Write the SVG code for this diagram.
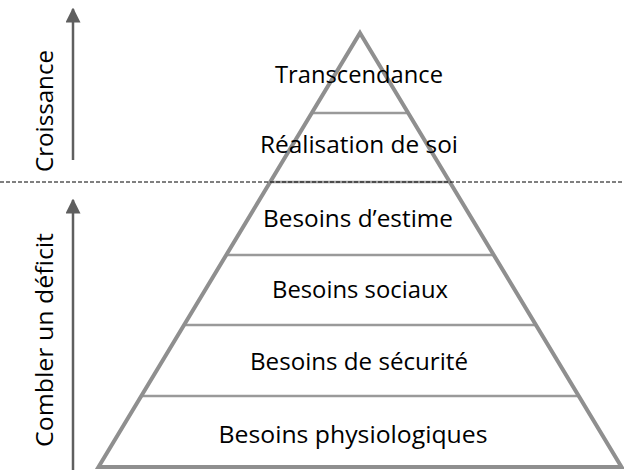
<svg xmlns="http://www.w3.org/2000/svg" width="624" height="473" viewBox="0 0 624 473">
<style>
.lbl{font-family:"Open Sans","Liberation Sans",sans-serif;font-size:23px;fill:#000;text-anchor:middle}
.side{font-family:"Open Sans","Liberation Sans",sans-serif;font-size:23px;fill:#000;text-anchor:middle}
.edge{fill:none;stroke:#8f8f8f;stroke-width:4;stroke-linejoin:miter}
.tier{stroke:#9a9a9a;stroke-width:2.5}
.arr{stroke:#5f5f5f;stroke-width:2.5;fill:none}
</style>
<defs>
<marker id="ah" viewBox="0 0 10 10" refX="9" refY="5" markerWidth="6" markerHeight="6" markerUnits="strokeWidth" orient="auto">
<path d="M0,0 L10,5 L0,10 z" fill="#5f5f5f"/>
</marker>
</defs>
<rect width="624" height="473" fill="#fff"/>
<g id="pyramid">
<line class="tier" x1="311.8" y1="113" x2="408.2" y2="113"/>
<line class="tier" x1="270.2" y1="182" x2="449.8" y2="182"/>
<line class="tier" x1="226.2" y1="255" x2="493.8" y2="255"/>
<line class="tier" x1="184.1" y1="325" x2="535.9" y2="325"/>
<line class="tier" x1="141.3" y1="396" x2="578.7" y2="396"/>
<path class="edge" d="M360,33 L621.5,467 L98.5,467 Z"/>
</g>
<g id="tier-transcendance"><text class="lbl" x="359" y="83" textLength="168" lengthAdjust="spacingAndGlyphs">Transcendance</text></g>
<g id="tier-realisation"><text class="lbl" x="359" y="153" textLength="198" lengthAdjust="spacingAndGlyphs">Réalisation de soi</text></g>
<g id="tier-estime"><text class="lbl" x="358" y="227" textLength="190" lengthAdjust="spacingAndGlyphs">Besoins d’estime</text></g>
<g id="tier-sociaux"><text class="lbl" x="360" y="298" textLength="176" lengthAdjust="spacingAndGlyphs">Besoins sociaux</text></g>
<g id="tier-securite"><text class="lbl" x="359" y="370" textLength="218" lengthAdjust="spacingAndGlyphs">Besoins de sécurité</text></g>
<g id="tier-physio"><text class="lbl" x="353" y="443" textLength="269" lengthAdjust="spacingAndGlyphs">Besoins physiologiques</text></g>
<g id="divider"><line x1="0" y1="182" x2="624" y2="182" stroke="#000" stroke-width="1" stroke-dasharray="4 2"/></g>
<g id="connectors">
<line class="arr" x1="73" y1="160" x2="73" y2="9" marker-end="url(#ah)"/>
<line class="arr" x1="73" y1="470" x2="73" y2="200" marker-end="url(#ah)"/>
</g>
<g id="label-croissance"><text class="side" transform="translate(53,111) rotate(-90)" textLength="122" lengthAdjust="spacingAndGlyphs">Croissance</text></g>
<g id="label-deficit"><text class="side" transform="translate(53,340) rotate(-90)" textLength="214" lengthAdjust="spacingAndGlyphs">Combler un déficit</text></g>
</svg>
